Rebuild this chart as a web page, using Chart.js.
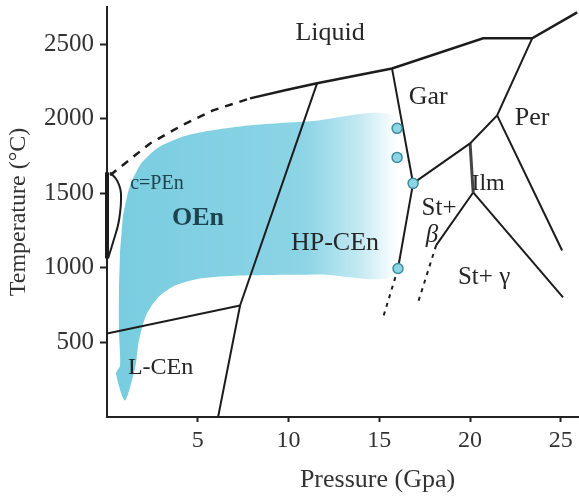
<!DOCTYPE html>
<html>
<head>
<meta charset="utf-8">
<script src="https://cdn.jsdelivr.net/npm/chart.js@4.4.0/dist/chart.umd.min.js"></script>
<style>
html, body { margin: 0; padding: 0; background: #fff; }
#wrap { width: 579px; height: 496px; position: relative; }
</style>
</head>
<body>
<div id="wrap"><canvas id="phaseChart"></canvas></div>
<script>
// tick labels
const pressureTicks = [5, 10, 15, 20, 25];
const tempTicks = [500, 1000, 1500, 2000, 2500];

// phase boundaries: pressure (GPa) / temperature (C)
const liqDashP = [0.17, 2.37, 4.13, 5.84, 7.88];
const liqDashT = [1621, 1835, 1956, 2057, 2137];
const liqP = [7.88, 9.81, 11.57, 15.70, 20.72, 23.42, 25.9];
const liqT = [2137, 2191, 2238, 2338, 2540, 2540, 2714];
const garPerP = [23.42, 21.49, 20.0, 16.86];
const garPerT = [2540, 2023, 1835, 1567];
const perIlmP = [21.49, 25.07];
const perIlmT = [2023, 1117];
const ilmVertP = [20.0, 20.17];
const ilmVertT = [1835, 1506];
const ilmLowP = [20.17, 25.12];
const ilmLowT = [1506, 802];
const betaP = [20.17, 18.13];
const betaT = [1506, 1151];
const betaDashP = [18.13, 17.08];
const betaDashT = [1151, 748];
const garLeftP = [15.70, 16.86, 16.03];
const garLeftT = [2338, 1567, 996];
const garDotP = [16.03, 15.21];
const garDotT = [996, 668];
const hpP = [11.57, 7.33, 6.12];
const hpT = [2238, 748, 0];
const lcenP = [0, 7.33];
const lcenT = [560, 748];
const penP = [0.17, 0.55, 0.77, 0.66, 0.33, 0.06];
const penT = [1641, 1587, 1500, 1318, 1171, 1064];
const penAxisP = [0, 0];
const penAxisT = [1064, 1641];

// experiment points
const dotP = [15.98, 15.98, 16.86, 16.03];
const dotT = [1936, 1741, 1567, 996];

// shaded P-T path outline
const shadeP = [0.88, 1.27, 1.93, 2.92, 4.57, 7.33, 11.19, 15.87, 15.87, 11.74, 7.33, 5.12, 3.75, 2.81, 2.15, 1.76, 1.60, 1.49, 0.99, 0.50, 0.72, 0.66, 0.66, 0.72];
const shadeT = [1352, 1553, 1708, 1815, 1895, 1949, 1983, 2003, 963, 956, 949, 929, 882, 802, 681, 513, 366, 299, 111, 292, 346, 580, 849, 1117];

const pts = (ps, ts) => ps.map((p, i) => ({ x: p, y: ts[i] }));

const phaseLabels = [
  { text: 'Liquid', p: 12.29, t: 2573, size: 26 },
  { text: 'Gar', p: 17.69, t: 2144, size: 26 },
  { text: 'Per', p: 23.42, t: 2003, size: 26 },
  { text: 'Ilm', p: 20.99, t: 1567, size: 24 },
  { text: 'St+', p: 18.29, t: 1398, size: 25 },
  { text: 'β', p: 17.9, t: 1218, size: 25, style: 'italic' },
  { text: 'St+ γ', p: 20.77, t: 936, size: 25 },
  { text: 'OEn', p: 5.01, t: 1332, size: 26, style: 'bold', color: '#1d4350' },
  { text: 'HP-CEn', p: 12.56, t: 1164, size: 26 },
  { text: 'L-CEn', p: 2.95, t: 332, size: 24 },
  { text: 'c=PEn', p: 2.75, t: 1567, size: 20, color: '#1d4350' }
];

const labelPlugin = {
  id: 'phaseLabels',
  afterDatasetsDraw(chart) {
    const { ctx, scales: { x, y } } = chart;
    ctx.save();
    ctx.textAlign = 'center';
    ctx.textBaseline = 'middle';
    phaseLabels.forEach(l => {
      ctx.font = (l.style || '') + ' ' + l.size + 'px "Liberation Serif", serif';
      ctx.fillStyle = l.color || '#262626';
      ctx.fillText(l.text, x.getPixelForValue(l.p), y.getPixelForValue(l.t));
    });
    // x axis title, set right of centre as in the source figure
    ctx.font = '26px "Liberation Serif", serif';
    ctx.fillStyle = '#333';
    ctx.fillText('Pressure (Gpa)', x.getPixelForValue(14.9), x.bottom - 16);
    ctx.restore();
  }
};

const shadeColor = function (c) {
  const chart = c.chart;
  if (!chart.chartArea) return 'rgba(125,206,224,1)';
  const xs = chart.scales.x;
  const g = chart.ctx.createLinearGradient(xs.getPixelForValue(0), 0, xs.getPixelForValue(16), 0);
  g.addColorStop(0, 'rgba(120,204,223,1)');
  g.addColorStop(0.68, 'rgba(140,212,230,1)');
  g.addColorStop(0.87, 'rgba(196,233,242,1)');
  g.addColorStop(1, 'rgba(255,255,255,1)');
  return g;
};

const lineDs = (data, extra) => Object.assign({
  data: data,
  borderColor: '#1c1c1c',
  borderWidth: 2,
  pointRadius: 0,
  tension: 0,
  fill: false
}, extra || {});

const noPad = s => { s.paddingTop = 0; s.paddingBottom = 0; s.paddingLeft = 0; s.paddingRight = 0; };

const ctx = document.getElementById('phaseChart').getContext('2d');
const chart = new Chart(ctx, {
  type: 'line',
  data: {
    datasets: [
      { type: 'scatter', data: pts(dotP, dotT), pointRadius: 5, backgroundColor: '#8dd5e4', borderColor: '#3d8c9c', borderWidth: 1.5, order: 0 },
      lineDs(pts(liqDashP, liqDashT), { borderDash: [8, 7], borderWidth: 2.5, order: 1 }),
      lineDs(pts(liqP, liqT), { borderWidth: 2.5, order: 1 }),
      lineDs(pts(garPerP, garPerT), { order: 1 }),
      lineDs(pts(perIlmP, perIlmT), { order: 1 }),
      lineDs(pts(ilmVertP, ilmVertT), { borderWidth: 3, borderColor: '#444', order: 1 }),
      lineDs(pts(ilmLowP, ilmLowT), { order: 1 }),
      lineDs(pts(betaP, betaT), { order: 1 }),
      lineDs(pts(betaDashP, betaDashT), { borderDash: [4, 5], order: 1 }),
      lineDs(pts(garLeftP, garLeftT), { order: 1 }),
      lineDs(pts(garDotP, garDotT), { borderDash: [4, 5], order: 1 }),
      lineDs(pts(hpP, hpT), { order: 1 }),
      lineDs(pts(lcenP, lcenT), { order: 1 }),
      lineDs(pts(penP, penT), { tension: 0.4, order: 1 }),
      lineDs(pts(penAxisP, penAxisT), { borderWidth: 4, clip: false, order: 1 }),
      { data: pts(shadeP, shadeT), fill: 'shape', backgroundColor: shadeColor, borderWidth: 0, borderColor: 'rgba(0,0,0,0)', pointRadius: 0, tension: 0.25, order: 10 }
    ]
  },
  options: {
    responsive: true,
    maintainAspectRatio: false,
    animation: false,
    layout: { autoPadding: false, padding: { top: 7, right: 0, left: 0, bottom: 0 } },
    plugins: { legend: { display: false }, tooltip: { enabled: false } },
    scales: {
      x: {
        type: 'linear',
        min: 0,
        max: 26,
        afterBuildTicks: s => { s.ticks = pressureTicks.map(v => ({ value: v })); },
        afterFit: s => { s.height = 79; noPad(s); },
        grid: { drawOnChartArea: false, tickLength: 5, tickColor: '#222', tickWidth: 2 },
        border: { color: '#222', width: 2 },
        ticks: { font: { family: 'Liberation Serif', size: 24 }, color: '#333', padding: 4, maxRotation: 0 }
      },
      y: {
        min: 0,
        max: 2750,
        afterBuildTicks: s => { s.ticks = tempTicks.map(v => ({ value: v })); },
        afterFit: s => { s.width = 107; noPad(s); },
        grid: { drawOnChartArea: false, tickLength: 7, tickColor: '#222', tickWidth: 2 },
        border: { color: '#222', width: 2 },
        ticks: { font: { family: 'Liberation Serif', size: 25 }, color: '#333', padding: 6, callback: v => String(v) },
        title: { display: true, text: 'Temperature (°C)', font: { family: 'Liberation Serif', size: 24 }, color: '#333', padding: { top: 4, bottom: 4 } }
      }
    }
  },
  plugins: [labelPlugin]
});
</script>
</body>
</html>
